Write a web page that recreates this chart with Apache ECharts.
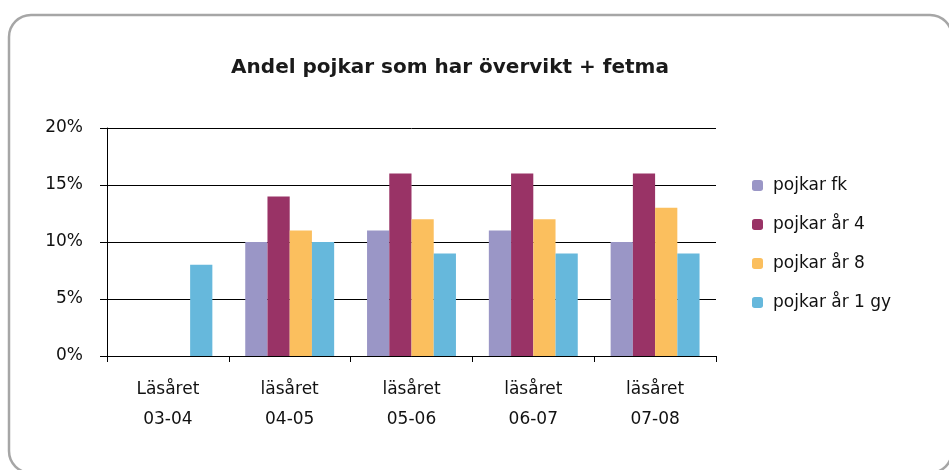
<!DOCTYPE html>
<html>
<head>
    <meta charset="UTF-8">
    <title>Andel pojkar</title>
    <style type="text/css">
        html, body {
            margin: 0;
            padding: 0;
            background: #fff;
        }

        #chart {
            width: 949px;
            height: 470px;
        }
    </style>
    <script type="text/javascript" src="https://cdn.jsdelivr.net/npm/echarts@6/dist/echarts.min.js"></script>
</head>
<body>
<div id="chart"></div>
<script type="text/javascript">
    var categories = ['Läsåret\n03-04', 'läsåret\n04-05', 'läsåret\n05-06', 'läsåret\n06-07', 'läsåret\n07-08'];
    var pojkarFk = [null, 10, 11, 11, 10];
    var pojkarAr4 = [null, 14, 16, 16, 16];
    var pojkarAr8 = [null, 11, 12, 12, 13];
    var pojkarAr1gy = [8, 10, 9, 9, 9];
    var yTicks = [0, 5, 10, 15, 20];

    var font = 'DejaVu Sans';
    var myChart = echarts.init(document.getElementById('chart'));

    function bar(name, data, color) {
        return {
            name: name,
            type: 'bar',
            data: data,
            barGap: '0%',
            barCategoryGap: '27%',
            itemStyle: {color: color}
        };
    }

    var option = {
        animation: false,
        title: {
            text: 'Andel pojkar som har övervikt + fetma',
            left: 445,
            top: 53,
            textAlign: 'center',
            textStyle: {fontFamily: font, fontSize: 20, fontWeight: 'bold', color: '#1a1a1a'}
        },
        graphic: [{
            type: 'rect',
            shape: {x: 9, y: 15, width: 943, height: 458, r: 22},
            style: {fill: null, stroke: '#a6a6a6', lineWidth: 2.5},
            z: -1
        }],
        legend: {
            orient: 'vertical',
            left: 747,
            top: 172,
            itemWidth: 11,
            itemHeight: 11,
            itemGap: 22,
            icon: 'roundRect',
            textStyle: {fontFamily: font, fontSize: 17, color: '#111', padding: [0, 0, 0, 5]},
            data: ['pojkar fk', 'pojkar år 4', 'pojkar år 8', 'pojkar år 1 gy']
        },
        grid: {
            left: 107,
            top: 128,
            width: 609,
            height: 228
        },
        xAxis: {
            type: 'category',
            data: categories,
            axisLine: {lineStyle: {color: '#000', width: 1}},
            axisTick: {show: true, length: 6, lineStyle: {color: '#000'}},
            axisLabel: {fontFamily: font, fontSize: 17, color: '#111', margin: 19, lineHeight: 30}
        },
        yAxis: {
            type: 'value',
            min: yTicks[0],
            max: yTicks[yTicks.length - 1],
            interval: 5,
            axisLine: {show: true, lineStyle: {color: '#000', width: 1}},
            axisTick: {show: true, length: 7, lineStyle: {color: '#000'}},
            splitLine: {lineStyle: {color: '#000', width: 1}},
            axisLabel: {
                fontFamily: font, fontSize: 17, color: '#111', margin: 24,
                formatter: function (val) {
                    return val + '%';
                }
            }
        },
        series: [
            bar('pojkar fk', pojkarFk, '#9a96c6'),
            bar('pojkar år 4', pojkarAr4, '#993366'),
            bar('pojkar år 8', pojkarAr8, '#fbbf5e'),
            bar('pojkar år 1 gy', pojkarAr1gy, '#66b8dc')
        ]
    };
    myChart.setOption(option);
</script>
</body>
</html>
